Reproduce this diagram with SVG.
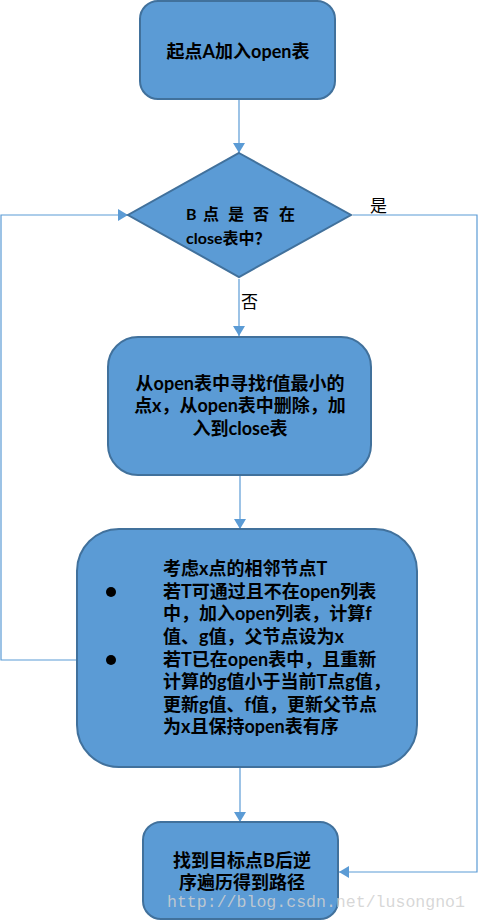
<svg xmlns="http://www.w3.org/2000/svg" width="478" height="921" viewBox="0 0 478 921">
<style>
.box{fill:#5B9BD5;stroke:#41719C;stroke-width:2}
.t{font-family:"Lato","Noto Sans CJK SC",sans-serif;font-weight:bold;font-size:18px;fill:#000}
.td{font-family:"Lato","Noto Sans CJK SC",sans-serif;font-weight:bold;font-size:16px;fill:#000}
.lbl{font-family:"Noto Sans CJK SC",sans-serif;font-size:17px;fill:#000}
.c{fill:none;stroke:#5B9BD5;stroke-width:1.2;marker-end:url(#ah)}
.wm{font-family:"Liberation Mono",monospace;font-size:16.5px;fill:#d0d0d0;fill-opacity:0.85}
</style>
<defs>
<marker id="ah" viewBox="0 0 10 12" refX="10" refY="6" markerWidth="10" markerHeight="12" markerUnits="userSpaceOnUse" orient="auto">
<path d="M0,0 L10,6 L0,12 z" fill="#5B9BD5"/>
</marker>
</defs>
<rect width="478" height="921" fill="#fff"/>
<g id="connectors">
<path class="c" d="M239,99 V153"/>
<path class="c" d="M239,279 V336"/>
<path class="c" d="M240,476 V529"/>
<path class="c" d="M240,768 V822"/>
<path class="c" d="M353,215 H477 V872 H339"/>
<path class="c" d="M77,660 H1 V215 H128"/>
<text class="lbl" x="370" y="212">是</text>
<text class="lbl" x="241" y="308">否</text>
</g>
<g id="start">
<rect class="box" x="140" y="1" width="195" height="98" rx="18"/>
<text class="t" x="238" y="58" text-anchor="middle">起点A加入open表</text>
</g>
<g id="decision">
<polygon class="box" points="239,153 351,215 239,277 128,215"/>
<text class="td" y="220"><tspan x="186">B</tspan><tspan x="203">点</tspan><tspan x="228">是</tspan><tspan x="253">否</tspan><tspan x="279">在</tspan></text>
<text class="td" x="186" y="244">close表中？</text>
</g>
<g id="select">
<rect class="box" x="108" y="337" width="263" height="138" rx="30"/>
<text class="t" text-anchor="middle"><tspan x="240" y="390">从open表中寻找f值最小的</tspan><tspan x="240" y="412">点x，从open表中删除，加</tspan><tspan x="240" y="435">入到close表</tspan></text>
</g>
<g id="neighbors">
<rect class="box" x="77" y="529" width="340" height="238" rx="42"/>
<circle cx="111" cy="592" r="5" fill="#000"/>
<circle cx="111" cy="660" r="5" fill="#000"/>
<text class="t"><tspan x="163" y="575">考虑x点的相邻节点T</tspan><tspan x="163" y="598">若T可通过且不在open列表</tspan><tspan x="163" y="620">中，加入open列表，计算f</tspan><tspan x="163" y="643">值、g值，父节点设为x</tspan><tspan x="163" y="666">若T已在open表中，且重新</tspan><tspan x="163" y="688">计算的g值小于当前T点g值，</tspan><tspan x="163" y="711">更新g值、f值，更新父节点</tspan><tspan x="163" y="733">为x且保持open表有序</tspan></text>
</g>
<g id="end">
<rect class="box" x="143" y="822" width="195" height="97" rx="18"/>
<text class="t" text-anchor="middle"><tspan x="242" y="867">找到目标点B后逆</tspan><tspan x="242" y="889">序遍历得到路径</tspan></text>
</g>
<text class="wm" x="167" y="907" textLength="298" lengthAdjust="spacingAndGlyphs">http://blog.csdn.net/lusongno1</text>
</svg>
